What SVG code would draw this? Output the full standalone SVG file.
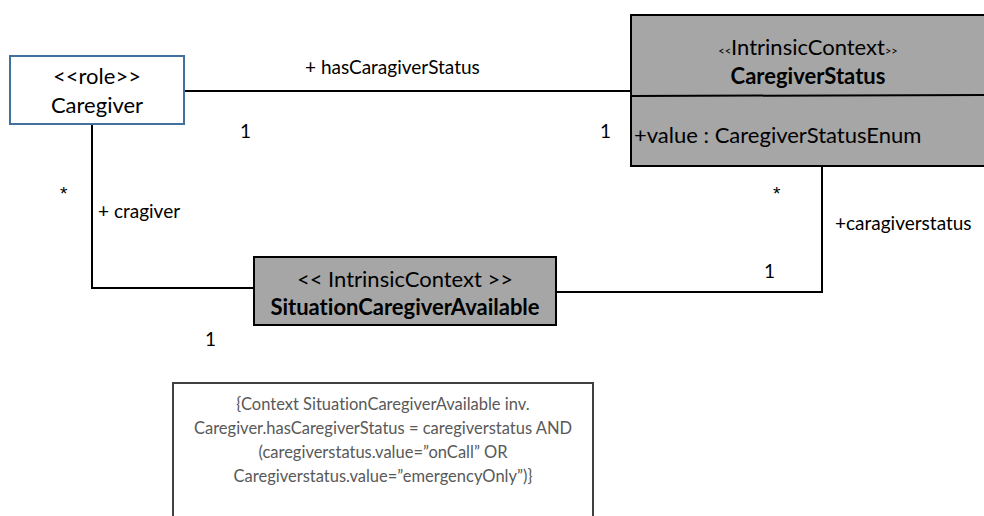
<svg xmlns="http://www.w3.org/2000/svg" width="984" height="516" viewBox="0 0 984 516">
  <style>
    text { font-family: Lato, "Liberation Sans", sans-serif; fill: #000; font-variant-ligatures: none; font-feature-settings: "liga" 0; }
    .box { fill: #a6a6a6; stroke: #000; stroke-width: 2; }
    .role { fill: #fff; stroke: #41719c; stroke-width: 2; }
    .conn { fill: none; stroke: #000; stroke-width: 2; }
    .big { font-size: 22px; }
    .bold { font-weight: bold; }
    .lbl { font-size: 19px; }
    .star { font-family: "Liberation Sans", sans-serif; font-size: 19px; }
    .note { fill: #fff; stroke: #404040; stroke-width: 2; }
    .ntext { font-size: 16.5px; fill: #595959; }
    .mid { text-anchor: middle; }
  </style>
  <rect width="984" height="516" fill="#fff"/>

  <!-- associations -->
  <g id="connectors">
    <line class="conn" x1="184" y1="91" x2="631" y2="91"/>
    <polyline class="conn" points="92,124 92,288 254,288"/>
    <polyline class="conn" points="556,292 822,292 822,166"/>
  </g>

  <!-- association end labels -->
  <g id="labels" class="lbl">
    <text x="305" y="74">+ hasCaragiverStatus</text>
    <text x="240" y="138">1</text>
    <text x="600" y="138">1</text>
    <text class="star" x="60" y="200">*</text>
    <text x="98" y="218">+ cragiver</text>
    <text class="star" x="773" y="200">*</text>
    <text x="835" y="230">+caragiverstatus</text>
    <text x="764" y="278">1</text>
    <text x="205" y="346">1</text>
  </g>

  <g id="caregiver">
    <rect class="role" x="10" y="56" width="174" height="68"/>
    <text class="big mid" x="97" y="84">&lt;&lt;role&gt;&gt;</text>
    <text class="big mid" x="97" y="113">Caregiver</text>
  </g>

  <g id="caregiver-status">
    <rect class="box" x="631" y="15" width="360" height="151"/>
    <line class="conn" x1="631" y1="96" x2="984" y2="95"/>
    <text class="mid" x="808" y="55" font-size="22"><tspan font-size="11">&lt;&lt;</tspan>IntrinsicContext<tspan font-size="11">&gt;&gt;</tspan></text>
    <text class="big bold mid" x="808" y="84">CaregiverStatus</text>
    <text class="big" x="634" y="143">+value : CaregiverStatusEnum</text>
  </g>

  <g id="situation">
    <rect class="box" x="254" y="257" width="302" height="68"/>
    <text class="big mid" x="405" y="287">&lt;&lt; IntrinsicContext &gt;&gt;</text>
    <text class="big bold mid" x="405" y="315">SituationCaregiverAvailable</text>
  </g>

  <g id="constraint">
    <rect class="note" x="173" y="383" width="420" height="140"/>
    <text class="ntext mid" x="383" y="410">{Context SituationCaregiverAvailable inv.</text>
    <text class="ntext mid" x="383" y="434">Caregiver.hasCaregiverStatus = caregiverstatus AND</text>
    <text class="ntext mid" x="383" y="458">(caregiverstatus.value=”onCall” OR</text>
    <text class="ntext mid" x="383" y="482">Caregiverstatus.value=”emergencyOnly”)}</text>
  </g>
</svg>
